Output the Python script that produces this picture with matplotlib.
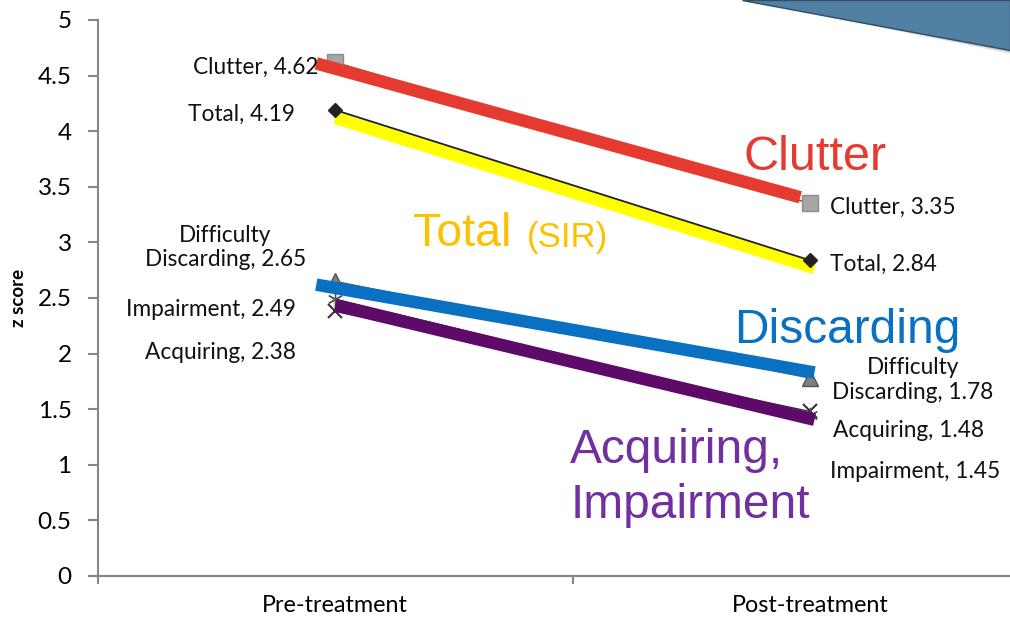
import matplotlib.pyplot as plt
from matplotlib.patches import Polygon

# z scores before and after treatment
stages = ["Pre-treatment", "Post-treatment"]
clutter = [4.62, 3.35]
total = [4.19, 2.84]
discarding = [2.65, 1.78]
acquiring = [2.38, 1.48]
impairment = [2.49, 1.45]

label_font = ["Lato", "DejaVu Sans"]
big_font = ["Liberation Sans", "DejaVu Sans"]

fig = plt.figure(figsize=(10.1, 6.18), dpi=100)
ax = fig.add_axes([98 / 1010, 42 / 618, 949 / 1010, 556 / 618])

x = [0, 1]

# thin series lines with markers
ax.plot(x, clutter, color="#555555", lw=1, marker="s", ms=11,
        mfc="#a6a6a6", mec="#8c8c8c", zorder=3)
ax.plot(x, total, color="#222222", lw=1.3, marker="D", ms=7,
        mfc="#222222", mec="#222222", zorder=3)
ax.plot(x, discarding, color="#555555", lw=1, marker="^", ms=11,
        mfc="#7f7f7f", mec="#555555", zorder=3)
ax.plot(x, acquiring, color="#333333", lw=1, marker="x", ms=10,
        mec="#333333", mew=1.5, zorder=3)
ax.plot(x, impairment, color="#333333", lw=1, marker=(6, 2, 0), ms=11,
        mec="#555555", mew=1, zorder=3)

# thick highlight strokes over each series
lw = 9
ax.plot([-0.04, 0.98], [clutter[0] - 0.01, clutter[0] + 0.98 * (clutter[1] - clutter[0]) + 0.03],
        color="#e43a2f", lw=lw, solid_capstyle="butt", zorder=4)
ax.plot([0.0, 1.01], [total[0] - 0.07, total[1] - 0.07],
        color="#ffff00", lw=lw, solid_capstyle="butt", zorder=2)
ax.plot([-0.04, 1.01], [discarding[0] - 0.03, discarding[1] + 0.05],
        color="#0a70c2", lw=lw, solid_capstyle="butt", zorder=4)
mid = [(a + b) / 2 for a, b in zip(acquiring, impairment)]
ax.plot([0.0, 1.01], [mid[0], mid[1] - 0.06],
        color="#5e0a68", lw=lw, solid_capstyle="butt", zorder=4)

# data labels
def lab(xv, yv, text, dx, dy, ha="right"):
    ax.annotate(text, (xv, yv), xytext=(dx, dy), textcoords="offset pixels",
                ha=ha, va="center", fontsize=16.3, family=label_font,
                color="#111111", zorder=5, linespacing=1.2)

lab(0, clutter[0], f"Clutter, {clutter[0]}", -17, -5)
lab(0, total[0], f"Total, {total[0]}", -40, -4)
lab(0, discarding[0], f"Difficulty\nDiscarding, {discarding[0]}", -110, 34, ha="center")
lab(0, impairment[0], f"Impairment, {impairment[0]}", -39, -10)
lab(0, acquiring[0], f"Acquiring, {acquiring[0]}", -39, -41)
lab(1, clutter[1], f"Clutter, {clutter[1]}", 20, -4, ha="left")
lab(1, total[1], f"Total, {total[1]}", 20, -4, ha="left")
lab(1, discarding[1], f"Difficulty\nDiscarding, {discarding[1]}", 103, -2, ha="center")
lab(1, acquiring[1], f"Acquiring, {acquiring[1]}", 23, -19, ha="left")
lab(1, impairment[1], f"Impairment, {impairment[1]}", 20, -57, ha="left")

# large category captions
ax.text(1.011, 3.76, "Clutter", color="#e43a2f", fontsize=35, family=big_font,
        ha="center", va="center", zorder=5)
ax.text(0.267, 3.08, "Total", color="#ffc000", fontsize=33.5, family=big_font,
        ha="center", va="center", zorder=5)
ax.text(0.49, 3.04, "(SIR)", color="#ffc000", fontsize=25, family=big_font,
        ha="center", va="center", zorder=5)
ax.text(1.08, 2.21, "Discarding", color="#0a70c2", fontsize=34.5, family=big_font,
        ha="center", va="center", zorder=5)
ax.text(0.495, 0.88, "Acquiring,\nImpairment", color="#7030a0", fontsize=34.5,
        family=big_font, ha="left", va="center", zorder=5, linespacing=1.3)

# axes styling
ax.set_xlim(-0.5, 1.5)
ax.set_ylim(0, 5)
ax.set_yticks([0, 0.5, 1, 1.5, 2, 2.5, 3, 3.5, 4, 4.5, 5])
ax.set_yticklabels(["0", "0.5", "1", "1.5", "2", "2.5", "3", "3.5", "4", "4.5", "5"],
                   family=label_font, fontsize=17.5)
ax.set_xticks(x)
ax.set_xticklabels(stages, family=label_font, fontsize=16.8)
ax.set_xticks([-0.5, 0.5, 1.5], minor=True)
ax.tick_params(axis="x", which="major", length=0, pad=14)
ax.tick_params(axis="x", which="minor", length=6, width=1.5, color="#868686")
ax.tick_params(axis="y", length=7, width=1.5, color="#868686", pad=12)
for s in ["top", "right"]:
    ax.spines[s].set_visible(False)
for s in ["left", "bottom"]:
    ax.spines[s].set_color("#868686")
    ax.spines[s].set_linewidth(1.5)
ax.set_ylabel("z score", family=label_font, fontsize=13.5, fontweight="bold", labelpad=8)

# slide decoration in the top right corner
W, H = 1010, 618
shape = [(742, H), (W, H), (W, H - 50)]
for i, a in enumerate([0.06, 0.08, 0.12, 0.18]):
    off = 4 - i
    fig.patches.append(Polygon([(742 / W, 1), (1, 1), (1, (H - 50 - off) / H)],
                               closed=True, transform=fig.transFigure,
                               facecolor="#000000", alpha=a, lw=0))
fig.patches.append(Polygon([(p[0] / W, p[1] / H) for p in shape], closed=True,
                           transform=fig.transFigure, facecolor="#5280a2",
                           edgecolor="#2f4f66", lw=1))

fig.savefig("out.png", dpi=100)
